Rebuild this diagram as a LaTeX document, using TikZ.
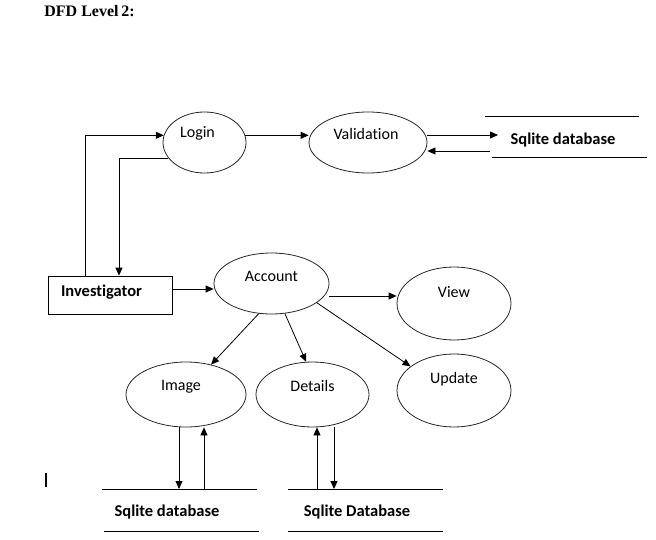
\documentclass[tikz,border=0pt]{standalone}
\usepackage{fontspec}
\setmainfont{Carlito}[Ligatures=NoCommon]
\newfontfamily\titlefont{Liberation Serif}
\usetikzlibrary{arrows.meta, positioning, shapes.geometric}

\begin{document}
\begin{tikzpicture}[
        x=1pt, y=-1pt, line width=0.8pt,
        every node/.style={font=\fontsize{16}{19}\selectfont},
        proc/.style={draw=black!85, ellipse, inner sep=0pt},
        entity/.style={draw, inner sep=0pt},
        store/.style={font=\fontsize{16.5}{19}\selectfont\bfseries},
        flow/.style={-{Triangle[length=8pt, width=7pt]}},
    ]
    \useasboundingbox (0,0) rectangle (656,540);
    \node[font=\titlefont\fontsize{16}{18}\selectfont\bfseries] (title) at (89.5,11) {DFD Level\,2:};

    % processes
    \node[proc, minimum width=83, minimum height=61, label={[xshift=-7, yshift=9]center:Login}] (login) at (204.5,142.5) {};
    \node[proc, minimum width=118, minimum height=61, label={[xshift=-2, yshift=8]center:Validation}] (valid) at (368,142.5) {};
    \node[proc, minimum width=115, minimum height=61, label={[yshift=7]center:Account}] (account) at (271.5,283.5) {};
    \node[proc, minimum width=114, minimum height=73, label={[yshift=11]center:View}] (view) at (454,303.5) {};
    \node[proc, minimum width=114, minimum height=73, label={[yshift=11]center:Update}] (update) at (454,390.5) {};
    \node[proc, minimum width=120, minimum height=65, label={[xshift=-5, yshift=8]center:Image}] (image) at (186,394.5) {};
    \node[proc, minimum width=113, minimum height=65, label={[yshift=8]center:Details}] (details) at (312.5,394.5) {};
    \node[entity, minimum width=124, minimum height=38, label={[xshift=-8.5, yshift=3]center:\fontsize{16.5}{19}\selectfont\bfseries Investigator}] (inv) at (110,295) {};

    % data stores
    \node[store] (db1) at (563,140) {Sqlite database};
    \node[store] (db2) at (167,512) {Sqlite database};
    \node[store] (db3) at (357,512) {Sqlite Database};
    \coordinate (db1in) at (498,135);
    \coordinate (db1out) at (490,151);
    \coordinate (db2top) at (102,489);
    \coordinate (db3top) at (288,489);
    \draw (485,116) -- (639,116) (492,157) -- (647,157);
    \draw (db2top) -- (257,489) (104,531) -- (259,531);
    \draw (db3top) -- (443,489) (288,531) -- (443,531);

    % flows
    \draw[flow] ([xshift=-25]inv.north) |- (login.170);
    \draw[flow] (login.203) -| ([xshift=9]inv.north);
    \draw[flow] (login.10) -- (login.10 -| valid.west);
    \draw[flow] (valid.east |- db1in) -- (db1in);
    \draw[flow] (db1out) -- (db1out -| valid.east);
    \draw[flow] ([yshift=6]inv.east) -- ([yshift=6]inv.east -| account.west);
    \draw[flow] ([yshift=-12.5]account.east) -- ([yshift=-12.5]account.east -| view.west);
    \draw[flow] (account.-23) -- (update.151);
    \draw[flow] (account.-113) -- (image.50);
    \draw[flow] (account.-66) -- (details.101);
    \draw[flow] ([xshift=-7]image.south) -- ([xshift=-7]image.south |- db2top);
    \draw[flow] ([xshift=18]image.south |- db2top) -- ([xshift=18]image.south);
    \draw[flow] ([xshift=4.5]details.south |- db3top) -- ([xshift=4.5]details.south);
    \draw[flow] ([xshift=21.5]details.south) -- ([xshift=21.5]details.south |- db3top);

    \draw[line width=1.2pt] (46,473) -- (46,487);
\end{tikzpicture}
\end{document}
